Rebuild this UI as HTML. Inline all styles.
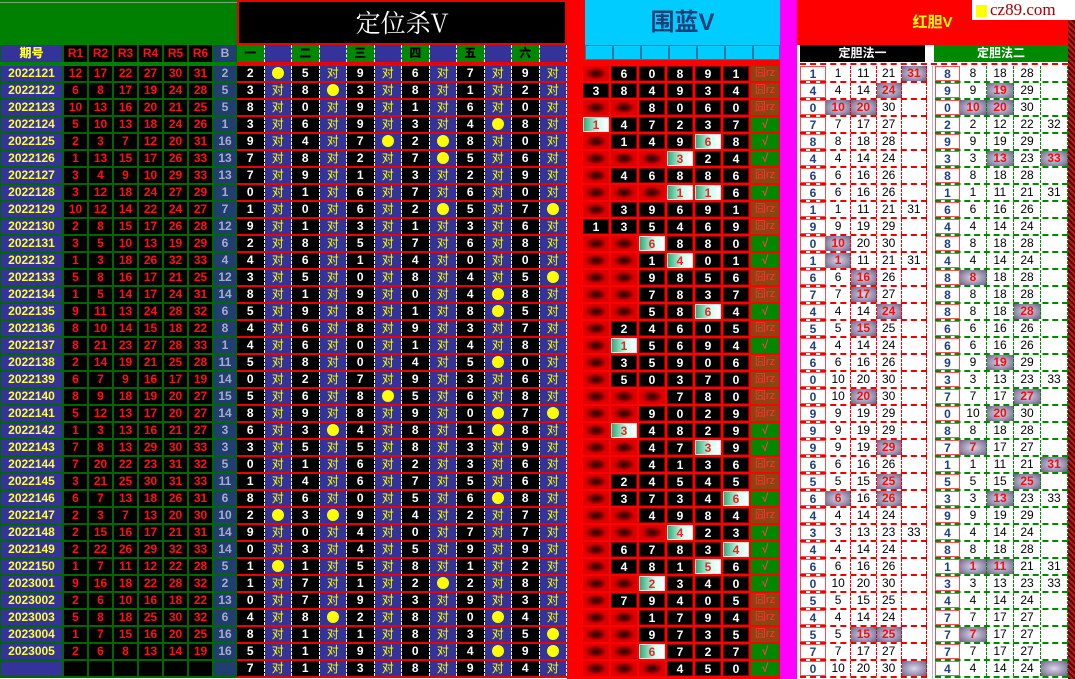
<!DOCTYPE html>
<html><head><meta charset="utf-8">
<style>
body{margin:0;width:1075px;height:679px;overflow:hidden;background:#fff;position:relative;font-family:"Liberation Sans","Noto Sans CJK SC",sans-serif;font-weight:bold;font-size:12px}
.ab{position:absolute}
p{margin:0;display:flex;height:17px}
b,i,em,u{display:block;height:15px;line-height:15px;text-align:center;font-style:normal;text-decoration:none;box-sizing:border-box;flex:none}
.A{left:0;top:66px;width:237px}
.A p{background:#060;padding-left:1px;gap:2px}
.A b{width:23px;background:#000;color:#f11}
.A b:first-child{width:61px;background:#333399;color:#ff3}
.A b:last-child{width:22px;background:#1f3f6f;color:#aac}
.B{left:237px;top:66px;width:330px}
.B p{background:#e00}
.B b,.B i{width:27.5px;border-right:1px dashed #fff}
.B b{background:#000;color:#fff}
.B i{background:#333399;color:#ff0;font-weight:normal}
.B i.o::after{content:"";display:inline-block;width:12px;height:12px;border-radius:50%;background:#ff0;vertical-align:middle;margin-top:-2px}
.C{left:582px;top:66px;width:200px}
.C p{gap:2px;padding-left:1px}
.C b,.C i,.C em{width:26px}
.C b{background:#000;color:#fff;border:1px solid #700}
.C i{background:radial-gradient(ellipse 40% 40% at center,#200 0%,#800 60%,#d00 100%)}
.C em{background:linear-gradient(90deg,#3a7 0%,#cfe 60%,#fff 100%);color:#e22;border:1px solid #fdd}
.C u{width:28px;background:#080;color:#e44}
.C u.z{background:#8b4513;color:#f33;font-weight:normal;font-size:11px}
.D{top:66px}
.D p{border-bottom:2px dashed #e00;height:15px}
.D b{background:#fff;color:#1f3f7f;border:1px solid #e55}
.D i,.D em{font-weight:normal;color:#000;border-right:1px dashed #e00;height:15px}
.D em{background:radial-gradient(ellipse at center,#ddd6ea 0%,#9a90b0 60%,#6a6080 100%);color:#e11;font-weight:bold}
.D1{left:800px;width:127px}
.D1 b{width:26px}.D1 i,.D1 em{width:25.25px}
.D2{left:935px;width:133px}
.D2 p{border-bottom-color:#080}
.D2 b{width:25px;border-color:#e55}.D2 i,.D2 em{width:27px;border-right-color:#080}
.h b,.h i{height:17px;line-height:17px}
</style></head><body>
<!-- top -->
<div class="ab" style="left:0;top:0;width:237px;height:66px;background:#008000"></div>
<div class="ab" style="left:0;top:2px;width:237px;height:1px;background:#7a7"></div>
<div class="ab" style="left:237px;top:0;width:326px;height:41px;background:#000;border:2px solid #e00;color:#fff;font-family:'Noto Serif CJK SC',serif;font-weight:normal;font-size:25px;line-height:41px;text-align:center">定位杀V</div>
<div class="ab" style="left:567px;top:0;width:215px;height:679px;background:#f00"></div>
<div class="ab" style="left:585px;top:0;width:195px;height:45px;background:#00ccff;color:#1a3f7a;font-size:24px;line-height:46px;text-align:center">围蓝V</div>
<div class="ab" style="left:780px;top:0;width:17px;height:679px;background:#ff00ff"></div>
<div class="ab" style="left:797px;top:0;width:271px;height:45px;background:#f00;color:#ff0;font-size:15px;line-height:46px;text-align:center">红胆V</div>
<div class="ab" style="left:1068px;top:0;width:7px;height:679px;background:repeating-linear-gradient(45deg,#600 0 2px,#a22 2px 4px)"></div>
<div class="ab" style="left:972px;top:0;width:103px;height:20px;background:#fff"></div>
<div class="ab" style="left:976px;top:5px;width:11px;height:12px;background:#ff0"></div>
<div class="ab" style="left:990px;top:0;height:20px;line-height:20px;color:#a00;font-family:'Liberation Serif',serif;font-weight:normal;font-size:17px">cz89.com</div>
<div class="ab" style="left:797px;top:45px;width:271px;height:21px;background:#fff"></div>
<!-- header row -->
<div class="ab A h" style="top:45px"><p><b>期号</b><b>R1</b><b>R2</b><b>R3</b><b>R4</b><b>R5</b><b>R6</b><b>B</b></p></div>
<div class="ab B h" style="top:45px;background:#e00;height:21px"><p style="height:17px"><b style="background:#080;color:#000">一</b><i></i><b style="background:#080;color:#000">二</b><i></i><b style="background:#080;color:#000">三</b><i></i><b style="background:#080;color:#000">四</b><i></i><b style="background:#080;color:#000">五</b><i></i><b style="background:#080;color:#000">六</b><i></i></p></div>
<div class="ab" style="left:585px;top:45px;width:195px;height:17px;display:flex">
<b style="width:28px;background:#00ccff;border:1px solid #2a7aa0"></b><b style="width:28px;background:#00ccff;border:1px solid #2a7aa0"></b><b style="width:28px;background:#00ccff;border:1px solid #2a7aa0"></b><b style="width:28px;background:#00ccff;border:1px solid #2a7aa0"></b><b style="width:28px;background:#00ccff;border:1px solid #2a7aa0"></b><b style="width:28px;background:#00ccff;border:1px solid #2a7aa0"></b><b style="width:27px;background:#00ccff;border:1px solid #2a7aa0"></b></div>
<div class="ab" style="left:800px;top:45px;width:125px;height:17px;background:#000;color:#fff;line-height:17px;text-align:center">定胆法一</div>
<div class="ab" style="left:934px;top:45px;width:134px;height:17px;background:#080;color:#fff;line-height:17px;text-align:center">定胆法二</div>
<div class="ab" style="left:800px;top:63px;width:268px;height:0;border-top:2px dashed #e00"></div>

<div class="ab A">
<p><b>2022121</b><b>12</b><b>17</b><b>22</b><b>27</b><b>30</b><b>31</b><b>2</b></p>
<p><b>2022122</b><b>6</b><b>8</b><b>17</b><b>19</b><b>24</b><b>28</b><b>5</b></p>
<p><b>2022123</b><b>10</b><b>13</b><b>16</b><b>20</b><b>21</b><b>25</b><b>5</b></p>
<p><b>2022124</b><b>5</b><b>10</b><b>13</b><b>18</b><b>24</b><b>26</b><b>1</b></p>
<p><b>2022125</b><b>2</b><b>3</b><b>7</b><b>12</b><b>20</b><b>31</b><b>16</b></p>
<p><b>2022126</b><b>1</b><b>13</b><b>15</b><b>17</b><b>26</b><b>33</b><b>13</b></p>
<p><b>2022127</b><b>3</b><b>4</b><b>9</b><b>10</b><b>29</b><b>33</b><b>13</b></p>
<p><b>2022128</b><b>3</b><b>12</b><b>18</b><b>24</b><b>27</b><b>29</b><b>1</b></p>
<p><b>2022129</b><b>10</b><b>12</b><b>14</b><b>22</b><b>24</b><b>27</b><b>7</b></p>
<p><b>2022130</b><b>2</b><b>8</b><b>15</b><b>17</b><b>26</b><b>28</b><b>12</b></p>
<p><b>2022131</b><b>3</b><b>5</b><b>10</b><b>13</b><b>19</b><b>29</b><b>6</b></p>
<p><b>2022132</b><b>1</b><b>3</b><b>18</b><b>26</b><b>32</b><b>33</b><b>4</b></p>
<p><b>2022133</b><b>5</b><b>8</b><b>16</b><b>17</b><b>21</b><b>25</b><b>12</b></p>
<p><b>2022134</b><b>1</b><b>5</b><b>14</b><b>17</b><b>24</b><b>31</b><b>14</b></p>
<p><b>2022135</b><b>9</b><b>11</b><b>13</b><b>24</b><b>28</b><b>32</b><b>6</b></p>
<p><b>2022136</b><b>8</b><b>10</b><b>14</b><b>15</b><b>18</b><b>22</b><b>8</b></p>
<p><b>2022137</b><b>8</b><b>21</b><b>23</b><b>27</b><b>28</b><b>33</b><b>1</b></p>
<p><b>2022138</b><b>2</b><b>14</b><b>19</b><b>21</b><b>25</b><b>28</b><b>11</b></p>
<p><b>2022139</b><b>6</b><b>7</b><b>9</b><b>16</b><b>17</b><b>19</b><b>14</b></p>
<p><b>2022140</b><b>8</b><b>9</b><b>18</b><b>19</b><b>20</b><b>27</b><b>15</b></p>
<p><b>2022141</b><b>5</b><b>12</b><b>13</b><b>17</b><b>20</b><b>27</b><b>14</b></p>
<p><b>2022142</b><b>1</b><b>3</b><b>13</b><b>16</b><b>21</b><b>27</b><b>3</b></p>
<p><b>2022143</b><b>7</b><b>8</b><b>13</b><b>29</b><b>30</b><b>33</b><b>3</b></p>
<p><b>2022144</b><b>7</b><b>20</b><b>22</b><b>23</b><b>31</b><b>32</b><b>5</b></p>
<p><b>2022145</b><b>3</b><b>21</b><b>25</b><b>30</b><b>31</b><b>33</b><b>11</b></p>
<p><b>2022146</b><b>6</b><b>7</b><b>13</b><b>18</b><b>26</b><b>31</b><b>6</b></p>
<p><b>2022147</b><b>2</b><b>3</b><b>7</b><b>13</b><b>20</b><b>30</b><b>10</b></p>
<p><b>2022148</b><b>2</b><b>15</b><b>16</b><b>17</b><b>21</b><b>31</b><b>14</b></p>
<p><b>2022149</b><b>2</b><b>22</b><b>26</b><b>29</b><b>32</b><b>33</b><b>14</b></p>
<p><b>2022150</b><b>1</b><b>7</b><b>11</b><b>12</b><b>22</b><b>28</b><b>5</b></p>
<p><b>2023001</b><b>9</b><b>16</b><b>18</b><b>22</b><b>28</b><b>32</b><b>2</b></p>
<p><b>2023002</b><b>2</b><b>6</b><b>10</b><b>16</b><b>18</b><b>22</b><b>13</b></p>
<p><b>2023003</b><b>5</b><b>8</b><b>18</b><b>25</b><b>30</b><b>32</b><b>6</b></p>
<p><b>2023004</b><b>1</b><b>7</b><b>15</b><b>16</b><b>20</b><b>25</b><b>16</b></p>
<p><b>2023005</b><b>2</b><b>6</b><b>8</b><b>13</b><b>14</b><b>19</b><b>16</b></p>
<p><b></b><b></b><b></b><b></b><b></b><b></b><b></b><b></b></p>
</div>

<div class="ab B">
<p><b>2</b><i class=o></i><b>5</b><i>对</i><b>9</b><i>对</i><b>6</b><i>对</i><b>7</b><i>对</i><b>9</b><i>对</i></p>
<p><b>3</b><i>对</i><b>8</b><i class=o></i><b>3</b><i>对</i><b>8</b><i>对</i><b>1</b><i>对</i><b>2</b><i>对</i></p>
<p><b>8</b><i>对</i><b>0</b><i>对</i><b>9</b><i>对</i><b>1</b><i>对</i><b>6</b><i>对</i><b>0</b><i>对</i></p>
<p><b>3</b><i>对</i><b>6</b><i>对</i><b>9</b><i>对</i><b>3</b><i>对</i><b>4</b><i class=o></i><b>8</b><i>对</i></p>
<p><b>9</b><i>对</i><b>4</b><i>对</i><b>7</b><i class=o></i><b>2</b><i class=o></i><b>8</b><i>对</i><b>0</b><i>对</i></p>
<p><b>7</b><i>对</i><b>8</b><i>对</i><b>2</b><i>对</i><b>7</b><i class=o></i><b>5</b><i>对</i><b>6</b><i>对</i></p>
<p><b>7</b><i>对</i><b>9</b><i>对</i><b>1</b><i>对</i><b>3</b><i>对</i><b>2</b><i>对</i><b>9</b><i>对</i></p>
<p><b>0</b><i>对</i><b>1</b><i>对</i><b>6</b><i>对</i><b>7</b><i>对</i><b>6</b><i>对</i><b>0</b><i>对</i></p>
<p><b>1</b><i>对</i><b>0</b><i>对</i><b>6</b><i>对</i><b>2</b><i class=o></i><b>5</b><i>对</i><b>7</b><i class=o></i></p>
<p><b>9</b><i>对</i><b>1</b><i>对</i><b>3</b><i>对</i><b>1</b><i>对</i><b>3</b><i>对</i><b>6</b><i>对</i></p>
<p><b>2</b><i>对</i><b>8</b><i>对</i><b>5</b><i>对</i><b>7</b><i>对</i><b>6</b><i>对</i><b>8</b><i>对</i></p>
<p><b>4</b><i>对</i><b>6</b><i>对</i><b>1</b><i>对</i><b>4</b><i>对</i><b>0</b><i>对</i><b>0</b><i>对</i></p>
<p><b>3</b><i>对</i><b>5</b><i>对</i><b>0</b><i>对</i><b>8</b><i>对</i><b>4</b><i>对</i><b>5</b><i class=o></i></p>
<p><b>8</b><i>对</i><b>1</b><i>对</i><b>9</b><i>对</i><b>0</b><i>对</i><b>4</b><i class=o></i><b>8</b><i>对</i></p>
<p><b>5</b><i>对</i><b>9</b><i>对</i><b>8</b><i>对</i><b>1</b><i>对</i><b>8</b><i class=o></i><b>5</b><i>对</i></p>
<p><b>4</b><i>对</i><b>6</b><i>对</i><b>8</b><i>对</i><b>9</b><i>对</i><b>3</b><i>对</i><b>7</b><i>对</i></p>
<p><b>4</b><i>对</i><b>6</b><i>对</i><b>0</b><i>对</i><b>1</b><i>对</i><b>4</b><i>对</i><b>8</b><i>对</i></p>
<p><b>5</b><i>对</i><b>8</b><i>对</i><b>0</b><i>对</i><b>4</b><i>对</i><b>5</b><i class=o></i><b>0</b><i>对</i></p>
<p><b>0</b><i>对</i><b>2</b><i>对</i><b>7</b><i>对</i><b>9</b><i>对</i><b>3</b><i>对</i><b>6</b><i>对</i></p>
<p><b>5</b><i>对</i><b>6</b><i>对</i><b>8</b><i class=o></i><b>5</b><i>对</i><b>6</b><i>对</i><b>8</b><i>对</i></p>
<p><b>8</b><i>对</i><b>9</b><i>对</i><b>8</b><i>对</i><b>9</b><i>对</i><b>0</b><i class=o></i><b>7</b><i class=o></i></p>
<p><b>6</b><i>对</i><b>3</b><i class=o></i><b>4</b><i>对</i><b>8</b><i>对</i><b>1</b><i class=o></i><b>8</b><i>对</i></p>
<p><b>3</b><i>对</i><b>5</b><i>对</i><b>5</b><i>对</i><b>8</b><i>对</i><b>3</b><i>对</i><b>9</b><i>对</i></p>
<p><b>0</b><i>对</i><b>1</b><i>对</i><b>6</b><i>对</i><b>2</b><i>对</i><b>3</b><i>对</i><b>6</b><i>对</i></p>
<p><b>1</b><i>对</i><b>4</b><i>对</i><b>6</b><i>对</i><b>7</b><i>对</i><b>5</b><i>对</i><b>6</b><i>对</i></p>
<p><b>8</b><i>对</i><b>6</b><i>对</i><b>0</b><i>对</i><b>5</b><i>对</i><b>6</b><i class=o></i><b>8</b><i>对</i></p>
<p><b>2</b><i class=o></i><b>3</b><i class=o></i><b>9</b><i>对</i><b>4</b><i>对</i><b>2</b><i>对</i><b>7</b><i>对</i></p>
<p><b>9</b><i>对</i><b>0</b><i>对</i><b>4</b><i>对</i><b>0</b><i>对</i><b>7</b><i>对</i><b>7</b><i>对</i></p>
<p><b>0</b><i>对</i><b>3</b><i>对</i><b>4</b><i>对</i><b>5</b><i>对</i><b>9</b><i>对</i><b>9</b><i>对</i></p>
<p><b>1</b><i class=o></i><b>1</b><i>对</i><b>5</b><i>对</i><b>8</b><i>对</i><b>1</b><i>对</i><b>2</b><i>对</i></p>
<p><b>1</b><i>对</i><b>7</b><i>对</i><b>1</b><i>对</i><b>2</b><i class=o></i><b>2</b><i>对</i><b>8</b><i>对</i></p>
<p><b>0</b><i>对</i><b>7</b><i>对</i><b>9</b><i>对</i><b>3</b><i>对</i><b>9</b><i>对</i><b>3</b><i>对</i></p>
<p><b>4</b><i>对</i><b>8</b><i class=o></i><b>2</b><i>对</i><b>8</b><i>对</i><b>0</b><i class=o></i><b>4</b><i>对</i></p>
<p><b>8</b><i>对</i><b>1</b><i>对</i><b>1</b><i>对</i><b>8</b><i>对</i><b>3</b><i>对</i><b>5</b><i class=o></i></p>
<p><b>5</b><i>对</i><b>1</b><i>对</i><b>9</b><i>对</i><b>0</b><i>对</i><b>4</b><i class=o></i><b>9</b><i class=o></i></p>
<p><b>7</b><i>对</i><b>1</b><i>对</i><b>3</b><i>对</i><b>8</b><i>对</i><b>9</b><i>对</i><b>4</b><i>对</i></p>
</div>

<div class="ab C">
<p><i></i><b>6</b><b>0</b><b>8</b><b>9</b><b>1</b><u class=z>囧rz</u></p>
<p><b>3</b><b>8</b><b>4</b><b>9</b><b>3</b><b>4</b><u class=z>囧rz</u></p>
<p><i></i><i></i><b>8</b><b>0</b><b>6</b><b>0</b><u class=z>囧rz</u></p>
<p><em>1</em><b>4</b><b>7</b><b>2</b><b>3</b><b>7</b><u>√</u></p>
<p><i></i><b>1</b><b>4</b><b>9</b><em>6</em><b>8</b><u>√</u></p>
<p><i></i><i></i><i></i><em>3</em><b>2</b><b>4</b><u>√</u></p>
<p><i></i><b>4</b><b>6</b><b>8</b><b>8</b><b>6</b><u class=z>囧rz</u></p>
<p><i></i><i></i><i></i><em>1</em><em>1</em><b>6</b><u>√</u></p>
<p><i></i><b>3</b><b>9</b><b>6</b><b>9</b><b>1</b><u class=z>囧rz</u></p>
<p><b>1</b><b>3</b><b>5</b><b>4</b><b>6</b><b>9</b><u class=z>囧rz</u></p>
<p><i></i><i></i><em>6</em><b>8</b><b>8</b><b>0</b><u>√</u></p>
<p><i></i><i></i><b>1</b><em>4</em><b>0</b><b>1</b><u>√</u></p>
<p><i></i><i></i><b>9</b><b>8</b><b>5</b><b>6</b><u class=z>囧rz</u></p>
<p><i></i><i></i><b>7</b><b>8</b><b>3</b><b>7</b><u class=z>囧rz</u></p>
<p><i></i><i></i><b>5</b><b>8</b><em>6</em><b>4</b><u>√</u></p>
<p><i></i><b>2</b><b>4</b><b>6</b><b>0</b><b>5</b><u class=z>囧rz</u></p>
<p><i></i><em>1</em><b>5</b><b>6</b><b>9</b><b>4</b><u>√</u></p>
<p><i></i><b>3</b><b>5</b><b>9</b><b>0</b><b>6</b><u class=z>囧rz</u></p>
<p><i></i><b>5</b><b>0</b><b>3</b><b>7</b><b>0</b><u class=z>囧rz</u></p>
<p><i></i><i></i><i></i><b>7</b><b>8</b><b>0</b><u class=z>囧rz</u></p>
<p><i></i><i></i><b>9</b><b>0</b><b>2</b><b>9</b><u class=z>囧rz</u></p>
<p><i></i><em>3</em><b>4</b><b>8</b><b>2</b><b>9</b><u>√</u></p>
<p><i></i><i></i><b>4</b><b>7</b><em>3</em><b>9</b><u>√</u></p>
<p><i></i><i></i><b>4</b><b>1</b><b>3</b><b>6</b><u class=z>囧rz</u></p>
<p><i></i><b>2</b><b>4</b><b>5</b><b>4</b><b>5</b><u class=z>囧rz</u></p>
<p><i></i><b>3</b><b>7</b><b>3</b><b>4</b><em>6</em><u>√</u></p>
<p><i></i><i></i><b>4</b><b>9</b><b>8</b><b>4</b><u class=z>囧rz</u></p>
<p><i></i><i></i><i></i><em>4</em><b>2</b><b>3</b><u>√</u></p>
<p><i></i><b>6</b><b>7</b><b>8</b><b>3</b><em>4</em><u>√</u></p>
<p><i></i><b>4</b><b>8</b><b>1</b><em>5</em><b>6</b><u>√</u></p>
<p><i></i><i></i><em>2</em><b>3</b><b>4</b><b>0</b><u>√</u></p>
<p><i></i><b>7</b><b>9</b><b>4</b><b>0</b><b>5</b><u class=z>囧rz</u></p>
<p><i></i><i></i><b>1</b><b>7</b><b>9</b><b>4</b><u class=z>囧rz</u></p>
<p><i></i><i></i><b>9</b><b>7</b><b>3</b><b>5</b><u class=z>囧rz</u></p>
<p><i></i><i></i><em>6</em><b>7</b><b>2</b><b>7</b><u>√</u></p>
<p><i></i><i></i><i></i><b>4</b><b>5</b><b>0</b><u>√</u></p>
</div>

<div class="ab D D1">
<p><b>1</b><i>1</i><i>11</i><i>21</i><em>31</em></p>
<p><b>4</b><i>4</i><i>14</i><em>24</em><i></i></p>
<p><b>0</b><em>10</em><em>20</em><i>30</i><i></i></p>
<p><b>7</b><i>7</i><i>17</i><i>27</i><i></i></p>
<p><b>8</b><i>8</i><i>18</i><i>28</i><i></i></p>
<p><b>4</b><i>4</i><i>14</i><i>24</i><i></i></p>
<p><b>6</b><i>6</i><i>16</i><i>26</i><i></i></p>
<p><b>6</b><i>6</i><i>16</i><i>26</i><i></i></p>
<p><b>1</b><i>1</i><i>11</i><i>21</i><i>31</i></p>
<p><b>9</b><i>9</i><i>19</i><i>29</i><i></i></p>
<p><b>0</b><em>10</em><i>20</i><i>30</i><i></i></p>
<p><b>1</b><em>1</em><i>11</i><i>21</i><i>31</i></p>
<p><b>6</b><i>6</i><em>16</em><i>26</i><i></i></p>
<p><b>7</b><i>7</i><em>17</em><i>27</i><i></i></p>
<p><b>4</b><i>4</i><i>14</i><em>24</em><i></i></p>
<p><b>5</b><i>5</i><em>15</em><i>25</i><i></i></p>
<p><b>4</b><i>4</i><i>14</i><i>24</i><i></i></p>
<p><b>6</b><i>6</i><i>16</i><i>26</i><i></i></p>
<p><b>0</b><i>10</i><i>20</i><i>30</i><i></i></p>
<p><b>0</b><i>10</i><em>20</em><i>30</i><i></i></p>
<p><b>9</b><i>9</i><i>19</i><i>29</i><i></i></p>
<p><b>9</b><i>9</i><i>19</i><i>29</i><i></i></p>
<p><b>9</b><i>9</i><i>19</i><em>29</em><i></i></p>
<p><b>6</b><i>6</i><i>16</i><i>26</i><i></i></p>
<p><b>5</b><i>5</i><i>15</i><em>25</em><i></i></p>
<p><b>6</b><em>6</em><i>16</i><em>26</em><i></i></p>
<p><b>4</b><i>4</i><i>14</i><i>24</i><i></i></p>
<p><b>3</b><i>3</i><i>13</i><i>23</i><i>33</i></p>
<p><b>4</b><i>4</i><i>14</i><i>24</i><i></i></p>
<p><b>6</b><i>6</i><i>16</i><i>26</i><i></i></p>
<p><b>0</b><i>10</i><i>20</i><i>30</i><i></i></p>
<p><b>5</b><i>5</i><i>15</i><i>25</i><i></i></p>
<p><b>4</b><i>4</i><i>14</i><i>24</i><i></i></p>
<p><b>5</b><i>5</i><em>15</em><em>25</em><i></i></p>
<p><b>7</b><i>7</i><i>17</i><i>27</i><i></i></p>
<p><b>0</b><i>10</i><i>20</i><i>30</i><em></em></p>
</div>

<div class="ab" style="left:932px;top:66px;width:1px;height:613px;background:#bbb"></div>

<div class="ab D D2">
<p><b>8</b><i>8</i><i>18</i><i>28</i><i></i></p>
<p><b>9</b><i>9</i><em>19</em><i>29</i><i></i></p>
<p><b>0</b><em>10</em><em>20</em><i>30</i><i></i></p>
<p><b>2</b><i>2</i><i>12</i><i>22</i><i>32</i></p>
<p><b>9</b><i>9</i><i>19</i><i>29</i><i></i></p>
<p><b>3</b><i>3</i><em>13</em><i>23</i><em>33</em></p>
<p><b>8</b><i>8</i><i>18</i><i>28</i><i></i></p>
<p><b>1</b><i>1</i><i>11</i><i>21</i><i>31</i></p>
<p><b>6</b><i>6</i><i>16</i><i>26</i><i></i></p>
<p><b>4</b><i>4</i><i>14</i><i>24</i><i></i></p>
<p><b>8</b><i>8</i><i>18</i><i>28</i><i></i></p>
<p><b>4</b><i>4</i><i>14</i><i>24</i><i></i></p>
<p><b>8</b><em>8</em><i>18</i><i>28</i><i></i></p>
<p><b>8</b><i>8</i><i>18</i><i>28</i><i></i></p>
<p><b>8</b><i>8</i><i>18</i><em>28</em><i></i></p>
<p><b>6</b><i>6</i><i>16</i><i>26</i><i></i></p>
<p><b>6</b><i>6</i><i>16</i><i>26</i><i></i></p>
<p><b>9</b><i>9</i><em>19</em><i>29</i><i></i></p>
<p><b>3</b><i>3</i><i>13</i><i>23</i><i>33</i></p>
<p><b>7</b><i>7</i><i>17</i><em>27</em><i></i></p>
<p><b>0</b><i>10</i><em>20</em><i>30</i><i></i></p>
<p><b>8</b><i>8</i><i>18</i><i>28</i><i></i></p>
<p><b>7</b><em>7</em><i>17</i><i>27</i><i></i></p>
<p><b>1</b><i>1</i><i>11</i><i>21</i><em>31</em></p>
<p><b>5</b><i>5</i><i>15</i><em>25</em><i></i></p>
<p><b>3</b><i>3</i><em>13</em><i>23</i><i>33</i></p>
<p><b>9</b><i>9</i><i>19</i><i>29</i><i></i></p>
<p><b>4</b><i>4</i><i>14</i><i>24</i><i></i></p>
<p><b>8</b><i>8</i><i>18</i><i>28</i><i></i></p>
<p><b>1</b><em>1</em><em>11</em><i>21</i><i>31</i></p>
<p><b>3</b><i>3</i><i>13</i><i>23</i><i>33</i></p>
<p><b>4</b><i>4</i><i>14</i><i>24</i><i></i></p>
<p><b>7</b><i>7</i><i>17</i><i>27</i><i></i></p>
<p><b>7</b><em>7</em><i>17</i><i>27</i><i></i></p>
<p><b>7</b><i>7</i><i>17</i><i>27</i><i></i></p>
<p><b>4</b><i>4</i><i>14</i><i>24</i><em></em></p>
</div>
</body></html>
